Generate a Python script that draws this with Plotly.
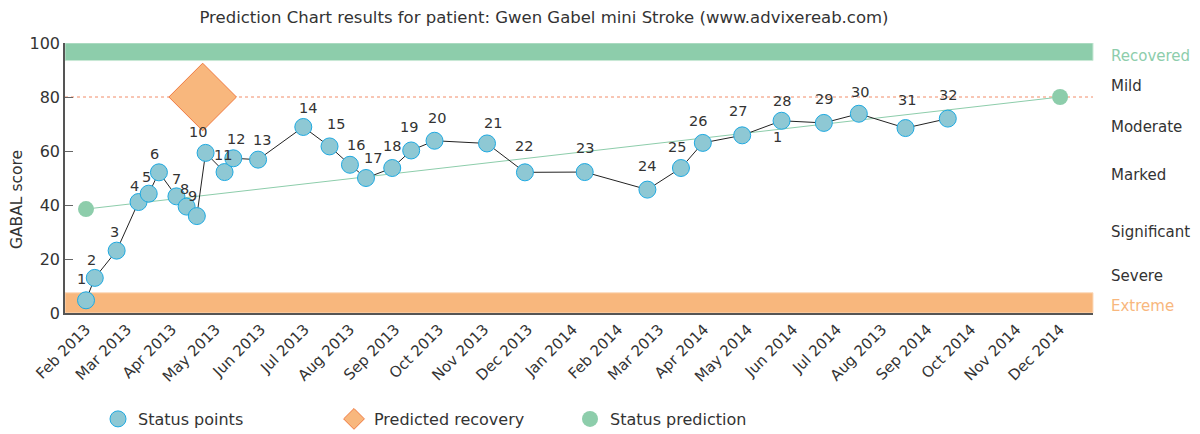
import plotly.graph_objects as go

# ---------------- data ----------------
status_dates = ["2013-02-01", "2013-02-07", "2013-02-22", "2013-03-09", "2013-03-16",
                "2013-03-23", "2013-04-04", "2013-04-11", "2013-04-18", "2013-04-24",
                "2013-05-07", "2013-05-13", "2013-05-30", "2013-06-30", "2013-07-18",
                "2013-08-01", "2013-08-12", "2013-08-30", "2013-09-12", "2013-09-28",
                "2013-11-03", "2013-11-29", "2014-01-09", "2014-02-21", "2014-03-16",
                "2014-03-31", "2014-04-27", "2014-05-24", "2014-06-22", "2014-07-16",
                "2014-08-17", "2014-09-15"]
status_scores = [4.7, 13.0, 23.1, 41.1, 44.2, 52.1, 43.2, 39.4, 35.9, 59.3,
                 52.2, 57.3, 56.8, 68.9, 61.7, 54.9, 50.0, 53.7, 60.2, 63.8,
                 62.8, 52.1, 52.2, 45.7, 53.7, 63.0, 65.8, 71.2, 70.4, 73.8,
                 68.5, 72.0]
status_labels = [str(i) for i in range(1, 33)]

recovery_date = ["2013-04-22"]
recovery_score = [80]

prediction_dates = ["2013-02-01", "2014-12-01"]
prediction_scores = [38.5, 80]

tick_dates = ["2013-02-01", "2013-03-01", "2013-04-01", "2013-05-01", "2013-06-01",
              "2013-07-01", "2013-08-01", "2013-09-01", "2013-10-01", "2013-11-01",
              "2013-12-01", "2014-01-01", "2014-02-01", "2014-03-01", "2014-04-01",
              "2014-05-01", "2014-06-01", "2014-07-01", "2014-08-01", "2014-09-01",
              "2014-10-01", "2014-11-01", "2014-12-01"]
tick_labels = ["Feb 2013", "Mar 2013", "Apr 2013", "May 2013", "Jun 2013", "Jul 2013",
               "Aug 2013", "Sep 2013", "Oct 2013", "Nov 2013", "Dec 2013", "Jan 2014",
               "Feb 2014", "Mar 2013", "Apr 2014", "May 2014", "Jun 2014", "Jul 2014",
               "Aug 2013", "Sep 2014", "Oct 2014", "Nov 2014", "Dec 2014"]

level_names = ["Recovered", "Mild", "Moderate", "Marked", "Significant", "Severe", "Extreme"]
level_values = [95.2, 83.9, 68.9, 51.2, 29.9, 13.8, 2.7]

recovered_band = [93.5, 100]
extreme_band = [0, 7.5]
target_level = 80

# ---------------- style ----------------
FONT = "DejaVu Sans"
TXT = "#333333"
GREEN = "#8dcdab"
ORANGE = "#f8b77d"
BLUE_FILL = "#8ec8d4"
BLUE_EDGE = "#1ea9e1"

# pixel offsets of the point labels relative to their points (styling)
LABEL_DX = [-5, -3, -2, -4, -2, -4, 0, -2, -4, -8, -2, 3, 4, 5, 6, 6,
            7, 0, -2, 2, 6, -1, 0, 0, -4, -5, -4, 0, 0, 1, 1, 0]
LABEL_DY = [21, 18, 19, 16, 17, 18, 17, 18, 20, 21, 17, 19, 20, 19, 22, 20,
            20, 22, 23, 23, 20, 26, 24, 24, 21, 22, 24, 20, 24, 22, 28, 24]

W, H = 1200, 434
L, R, T, B = 65, 107, 43, 121
PW, PH = W - L - R, H - T - B

fig = go.Figure()

# prediction line
fig.add_trace(go.Scatter(x=prediction_dates, y=prediction_scores, mode="lines",
                         line=dict(color=GREEN, width=1), showlegend=False, hoverinfo="skip"))
# status line
fig.add_trace(go.Scatter(x=status_dates, y=status_scores, mode="lines",
                         line=dict(color="#222222", width=1), showlegend=False, hoverinfo="skip"))
# status points
fig.add_trace(go.Scatter(x=status_dates, y=status_scores, mode="markers",
                         name="Status points",
                         marker=dict(size=17, color=BLUE_FILL, line=dict(color=BLUE_EDGE, width=1))))
# predicted recovery
fig.add_trace(go.Scatter(x=recovery_date, y=recovery_score, mode="markers",
                         name="Predicted recovery",
                         marker=dict(symbol="diamond", size=52, color=ORANGE,
                                     line=dict(color="#f07a40", width=1))))
# status prediction
fig.add_trace(go.Scatter(x=prediction_dates, y=prediction_scores, mode="markers",
                         name="Status prediction",
                         marker=dict(size=16, color=GREEN)))

# point labels
for xd, yv, lab, dx, dy in zip(status_dates, status_scores, status_labels, LABEL_DX, LABEL_DY):
    fig.add_annotation(x=xd, y=yv, text=lab, showarrow=False, xshift=dx, yshift=dy,
                       xanchor="center", yanchor="middle",
                       font=dict(family=FONT, size=14.5, color=TXT))

# bands and target line
fig.add_shape(type="rect", xref="paper", x0=0, x1=1, yref="y",
              y0=recovered_band[0], y1=recovered_band[1],
              fillcolor=GREEN, line=dict(color="#c8e8d6", width=1), layer="below")
fig.add_shape(type="rect", xref="paper", x0=0, x1=1, yref="y",
              y0=extreme_band[0], y1=extreme_band[1],
              fillcolor=ORANGE, line=dict(color="#fbd9bb", width=1), layer="below")
fig.add_shape(type="line", xref="paper", x0=0, x1=1, yref="y",
              y0=target_level, y1=target_level,
              line=dict(color="#f28c68", width=1, dash="3px,3px"), layer="below")

# right-side level labels
for name, val in zip(level_names, level_values):
    col = GREEN if name == "Recovered" else (ORANGE if name == "Extreme" else TXT)
    fig.add_annotation(x=1, xref="paper", xshift=16, xanchor="left", y=val, yref="y",
                       text=name, showarrow=False,
                       font=dict(family=FONT, size=15, color=col))

# stray label near point 28
fig.add_annotation(x="2014-05-21", y=65.3, text="1", showarrow=False,
                   font=dict(family=FONT, size=14.5, color=TXT))

# y-axis title
fig.add_annotation(x=(17 - L) / PW, xref="paper", y=(T + PH - 200) / PH, yref="paper",
                   text="GABAL score", showarrow=False, textangle=-90,
                   xanchor="center", yanchor="middle",
                   font=dict(family=FONT, size=15.5, color=TXT))

fig.update_layout(
    width=W, height=H,
    margin=dict(l=L, r=R, t=T, b=B, autoexpand=False),
    paper_bgcolor="white", plot_bgcolor="white",
    font=dict(family=FONT, size=15, color=TXT),
    title=dict(text="Prediction Chart results for patient: Gwen Gabel mini Stroke (www.advixereab.com)",
               x=544 / W, xanchor="center", xref="container",
               y=1 - 17 / H, yanchor="middle", yref="container",
               font=dict(family=FONT, size=16.5, color=TXT)),
    xaxis=dict(type="date", range=["2013-01-17 14:00", "2014-12-23 14:00"],
               tickmode="array", tickvals=tick_dates, ticktext=tick_labels,
               tickangle=-45, showgrid=False, zeroline=False, automargin=False,
               showline=True, linecolor="#555555", linewidth=1.5,
               ticks="", tickfont=dict(family=FONT, size=15, color=TXT)),
    yaxis=dict(range=[0, 100], tickvals=[0, 20, 40, 60, 80, 100], showgrid=False,
               zeroline=False, showline=True, linecolor="#555555", linewidth=1.5,
               automargin=False,
               ticks="inside", ticklen=8, tickcolor="#666666",
               tickfont=dict(family=FONT, size=16, color=TXT)),
    legend=dict(orientation="h", xref="container", x=98 / W, xanchor="left",
                yref="container", y=(H - 419) / H, yanchor="middle",
                entrywidth=191, entrywidthmode="pixels",
                font=dict(family=FONT, size=16, color=TXT)),
    showlegend=True,
)

fig.write_html("out.html", config={"displayModeBar": False},
               post_script="document.body.style.margin='0';document.body.style.overflow='hidden';")
